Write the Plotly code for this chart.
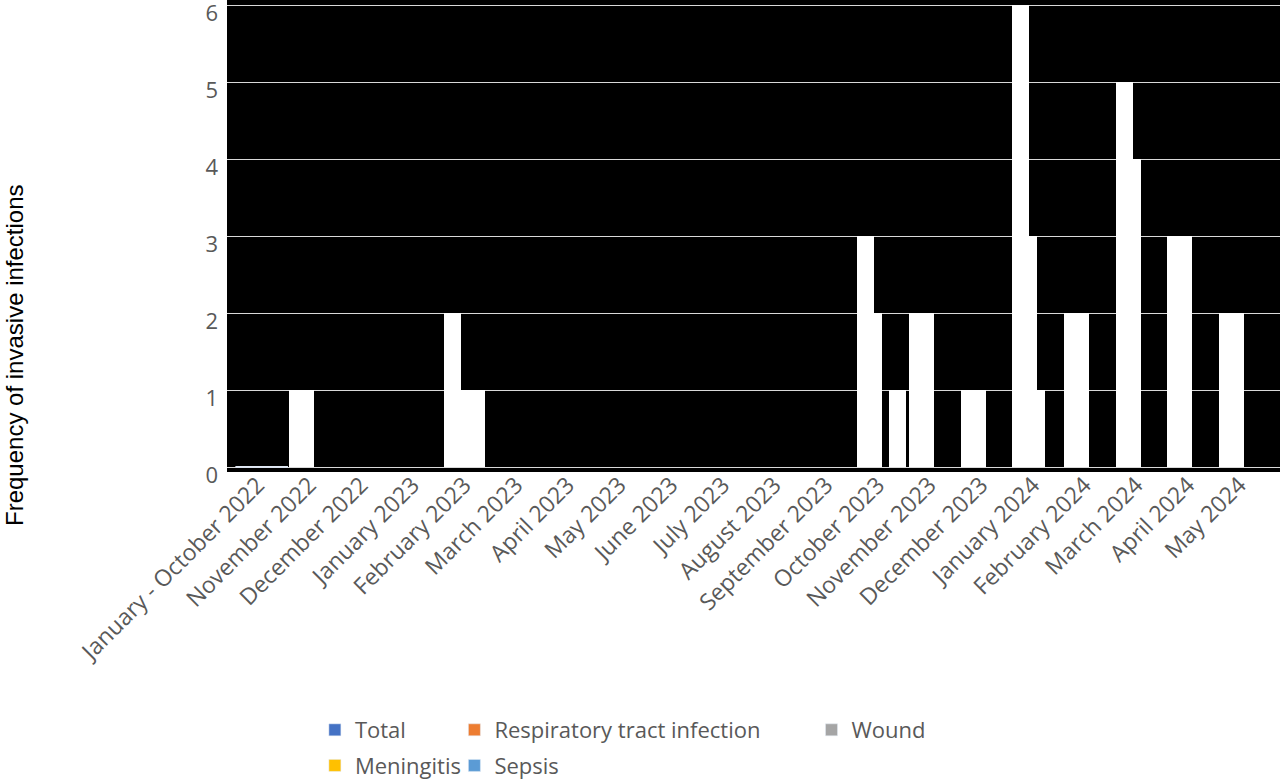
import plotly.graph_objects as go

months = [
    "January - October 2022", "November 2022", "December 2022", "January 2023",
    "February 2023", "March 2023", "April 2023", "May 2023", "June 2023",
    "July 2023", "August 2023", "September 2023", "October 2023",
    "November 2023", "December 2023", "January 2024", "February 2024",
    "March 2024", "April 2024", "May 2024",
]
total = [0, 1, 0, 0, 2, 0, 0, 0, 0, 0, 0, 0, 3, 2, 1, 6, 2, 5, 3, 2]
respiratory = [0, 1, 0, 0, 1, 0, 0, 0, 0, 0, 0, 0, 2, 2, 1, 3, 2, 4, 3, 2]
wound = [0, 0, 0, 0, 0, 0, 0, 0, 0, 0, 0, 0, 0, 0, 0, 1, 0, 0, 0, 0]
meningitis = [0, 0, 0, 0, 1, 0, 0, 0, 0, 0, 0, 0, 0, 0, 0, 0, 0, 0, 0, 0]
sepsis = [0, 0, 0, 0, 0, 0, 0, 0, 0, 0, 0, 0, 1, 0, 0, 0, 0, 0, 0, 0]

series_names = ["Total", "Respiratory tract infection", "Wound", "Meningitis", "Sepsis"]
series_vals = [total, respiratory, wound, meningitis, sepsis]
series_colors = ["#4472C4", "#ED7D31", "#A5A5A5", "#FFC000", "#5B9BD5"]
# excel-ish legend columns
legend_ids = ["legend", "legend2", "legend3", "legend", "legend2"]

FONT = "Open Sans"
GREY = "#595959"

fig = go.Figure()

# bars are all drawn white (overlapping clusters, like the original 3-D export)
for k, (name, vals) in enumerate(zip(series_names, series_vals)):
    fig.add_trace(go.Bar(
        x=months, y=vals, name=name,
        offset=-0.474 + 0.155 * k, width=0.329,
        marker=dict(color="white", line=dict(width=0)),
        showlegend=False,
        hovertemplate="%{x}<br>" + name + ": %{y}<extra></extra>",
    ))

# legend swatches keep the series colours (zero-height, nothing drawn)
for name, color, lg in zip(series_names, series_colors, legend_ids):
    fig.add_trace(go.Bar(
        x=months[:1], y=[0], name=name, marker_color=color,
        legend=lg, legendgroup=name, showlegend=True, hoverinfo="skip",
    ))

leg_common = dict(
    orientation="v", xref="container", yref="container",
    yanchor="top", xanchor="left", y=0.091,
    font=dict(family=FONT, size=22, color=GREY),
    bgcolor="rgba(0,0,0,0)", tracegroupgap=4, itemwidth=30,
)

fig.update_layout(
    width=1280, height=780,
    paper_bgcolor="white", plot_bgcolor="black",
    barmode="overlay", bargap=0,
    margin=dict(l=227, r=0, t=0, b=308, autoexpand=False),
    xaxis=dict(
        type="category", automargin=False,
        range=[-0.673, 19.706], tickangle=-45,
        tickfont=dict(family=FONT, size=23, color=GREY),
        showgrid=False, showline=False, ticks="", zeroline=False,
        ticklabelstandoff=-6, ticklabelshift=-4,
    ),
    yaxis=dict(
        automargin=False,
        range=[-0.065, 6.065], tickvals=[0, 1, 2, 3, 4, 5, 6],
        tickfont=dict(family=FONT, size=22, color=GREY),
        showgrid=True, gridcolor="#D9D9D9", gridwidth=1,
        zeroline=False, showline=False, ticks="",
        ticklabeloverflow="allow", ticklabelshift=8, ticklabelstandoff=8,
    ),
    legend=dict(leg_common, x=0.246),
    legend2=dict(leg_common, x=0.355),
    legend3=dict(leg_common, x=0.634),
    annotations=[dict(
        text="Frequency of invasive infections",
        xref="paper", yref="paper", x=-0.2013, y=0.248,
        xanchor="center", yanchor="middle",
        textangle=-90, showarrow=False,
        font=dict(family="Liberation Sans", size=24, color="black"),
    )],
)

fig.write_html("out.html", config={"displayModeBar": False},
               post_script="document.body.style.margin = '0';")
